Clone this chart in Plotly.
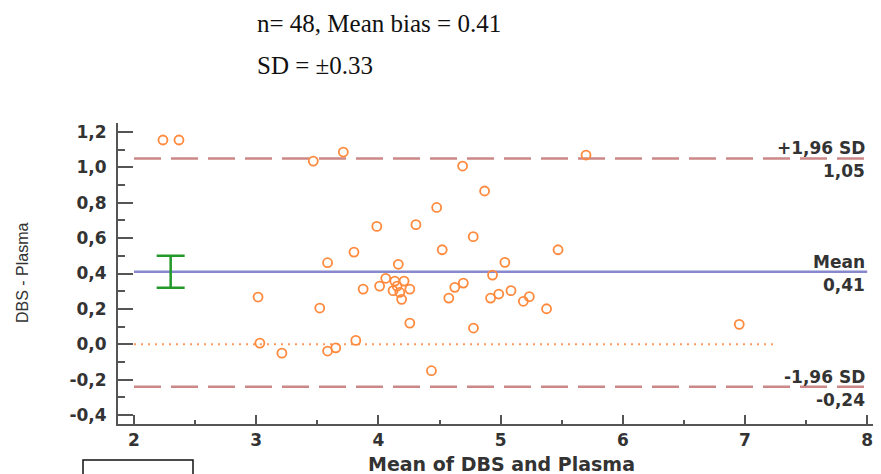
import plotly.graph_objects as go

# ---- data ----
mean_vals = [2.237, 2.368, 3.015, 3.03, 3.21,
             3.467, 3.713, 4.689, 5.699, 4.869, 4.477, 3.987, 4.307, 4.776,
             3.80, 4.522, 5.470, 3.584, 4.163, 5.035, 4.934,
             4.06, 4.134, 4.21, 4.01, 4.153, 3.875, 4.12, 4.175, 4.257, 4.19,
             4.625, 4.695, 4.576, 4.918, 4.985, 5.085, 5.235, 5.186, 5.376, 3.52,
             4.257, 4.778, 3.815, 3.651, 3.584, 4.434, 6.953]
diff_vals = [1.154, 1.154, 0.267, 0.007, -0.05,
             1.035, 1.086, 1.007, 1.069, 0.866, 0.773, 0.666, 0.676, 0.608,
             0.521, 0.534, 0.534, 0.461, 0.452, 0.463, 0.391,
             0.373, 0.357, 0.357, 0.329, 0.329, 0.312, 0.303, 0.293, 0.312, 0.254,
             0.322, 0.346, 0.261, 0.261, 0.284, 0.303, 0.269, 0.243, 0.201, 0.205,
             0.12, 0.092, 0.022, -0.02, -0.038, -0.149, 0.113]

mean_bias = 0.41
upper_loa = 1.05
lower_loa = -0.24
ci_low = 0.32
ci_high = 0.50
ci_x = 2.3
line_x = [2, 8]
zero_x = [2, 7.24]

y_tick_vals = [-0.4, -0.2, 0.0, 0.2, 0.4, 0.6, 0.8, 1.0, 1.2]
y_tick_text = ["-0,4", "-0,2", "0,0", "0,2", "0,4", "0,6", "0,8", "1,0", "1,2"]
y_minor_vals = [-0.3, -0.1, 0.1, 0.3, 0.5, 0.7, 0.9, 1.1]
x_tick_vals = [2, 3, 4, 5, 6, 7, 8]
x_tick_text = ["2", "3", "4", "5", "6", "7", "8"]
x_minor_vals = [2.5, 3.5, 4.5, 5.5, 6.5, 7.5]

caption1 = "n= 48, Mean bias = 0.41"
caption2 = "SD = ±0.33"

# ---- styles ----
OFF = 8  # page body margin
W, H = 881 - OFF, 474 - OFF
ML, MT = 118 - OFF, 123 - OFF
MR = 0
MB = H - (424 - OFF)
PW, PH = W - ML - MR, H - MT - MB
AXC = "#555555"
TXT = "#333333"
FONT = "DejaVu Sans"

def px_x(p):
    return (p - OFF - ML) / PW

def px_y(p):
    return (H - MB - (p - OFF)) / PH

fig = go.Figure()

# zero line (dotted)
fig.add_trace(go.Scatter(x=zero_x, y=[0, 0], mode="lines",
                         line=dict(color="#ff9a5c", width=2, dash="2px,5px"),
                         hoverinfo="skip", showlegend=False))
# limits of agreement
for yv in (upper_loa, lower_loa):
    fig.add_trace(go.Scatter(x=line_x, y=[yv, yv], mode="lines",
                             line=dict(color="#cc8888", width=2.5, dash="27px,10px"),
                             hoverinfo="skip", showlegend=False))
# mean line
fig.add_trace(go.Scatter(x=line_x, y=[mean_bias, mean_bias], mode="lines",
                         line=dict(color="#8888cc", width=2.5),
                         hoverinfo="skip", showlegend=False))
# CI of mean
fig.add_trace(go.Scatter(x=[ci_x], y=[(ci_low + ci_high) / 2], mode="markers",
                         marker=dict(size=1, opacity=0),
                         error_y=dict(type="data", symmetric=False,
                                      array=[ci_high - (ci_low + ci_high) / 2],
                                      arrayminus=[(ci_low + ci_high) / 2 - ci_low],
                                      color="#22992a", thickness=2.5, width=14),
                         hoverinfo="skip", showlegend=False))
# points
fig.add_trace(go.Scatter(x=mean_vals, y=diff_vals, mode="markers",
                         marker=dict(symbol="circle-open", size=9, color="#ff8a3d",
                                     line=dict(width=1.8, color="#ff8a3d")),
                         showlegend=False))

annots = []
lab_font = dict(family=FONT, size=17, color=TXT, weight="bold")
for yv, top, bottom in ((upper_loa, "+1,96 SD", "1,05"),
                        (mean_bias, "Mean", "0,41"),
                        (lower_loa, "-1,96 SD", "-0,24")):
    annots.append(dict(x=8, y=yv, xref="x", yref="y", text=top, showarrow=False,
                       xanchor="right", yanchor="bottom", yshift=-2, font=lab_font))
    annots.append(dict(x=8, y=yv, xref="x", yref="y", text=bottom, showarrow=False,
                       xanchor="right", yanchor="top", yshift=-1, font=lab_font))

annots.append(dict(x=px_x(22), y=px_y(273), xref="paper", yref="paper",
                   text="DBS - Plasma", textangle=-90, showarrow=False,
                   xanchor="center", yanchor="middle",
                   font=dict(family="Liberation Sans", size=16, color=TXT)))
annots.append(dict(x=px_x(502), y=px_y(464), xref="paper", yref="paper",
                   text="Mean of DBS and Plasma", showarrow=False,
                   xanchor="center", yanchor="middle",
                   font=dict(family=FONT, size=19, color=TXT, weight="bold")))
cap_font = dict(family="Liberation Serif", size=25, color="#111111")
annots.append(dict(x=px_x(256), y=px_y(23), xref="paper", yref="paper",
                   text=caption1, showarrow=False, xanchor="left", yanchor="middle",
                   borderpad=0, font=cap_font))
annots.append(dict(x=px_x(256), y=px_y(65), xref="paper", yref="paper",
                   text=caption2, showarrow=False, xanchor="left", yanchor="middle",
                   borderpad=0, font=cap_font))

tick_font = dict(family=FONT, size=17, color=TXT, weight="bold")

fig.update_layout(
    width=W, height=H,
    margin=dict(l=ML, r=MR, t=MT, b=MB, pad=0),
    paper_bgcolor="white", plot_bgcolor="white",
    annotations=annots,
    shapes=[dict(type="rect", xref="paper", yref="paper",
                 x0=px_x(83), x1=px_x(193), y0=px_y(490), y1=px_y(460),
                 line=dict(color="#111111", width=1.5), fillcolor="white")],
    xaxis=dict(range=[1.869, 8.113], showgrid=False, zeroline=False,
               showline=True, linecolor=AXC, linewidth=2,
               tickmode="array", tickvals=x_tick_vals, ticktext=x_tick_text,
               ticks="inside", ticklen=9, tickwidth=2, tickcolor=AXC,
               minor=dict(tickmode="array", tickvals=x_minor_vals, ticks="inside",
                          ticklen=4, tickwidth=1.5, tickcolor=AXC, showgrid=False),
               tickfont=tick_font),
    yaxis=dict(range=[-0.45, 1.25], showgrid=False, zeroline=False,
               showline=True, linecolor=AXC, linewidth=2,
               tickmode="array", tickvals=y_tick_vals, ticktext=y_tick_text,
               ticks="inside", ticklen=15, tickwidth=2, tickcolor=AXC,
               minor=dict(tickmode="array", tickvals=y_minor_vals, ticks="inside",
                          ticklen=7, tickwidth=1.5, tickcolor=AXC, showgrid=False),
               ticklabelstandoff=6,
               tickfont=tick_font),
)

fig.write_html("out.html")
